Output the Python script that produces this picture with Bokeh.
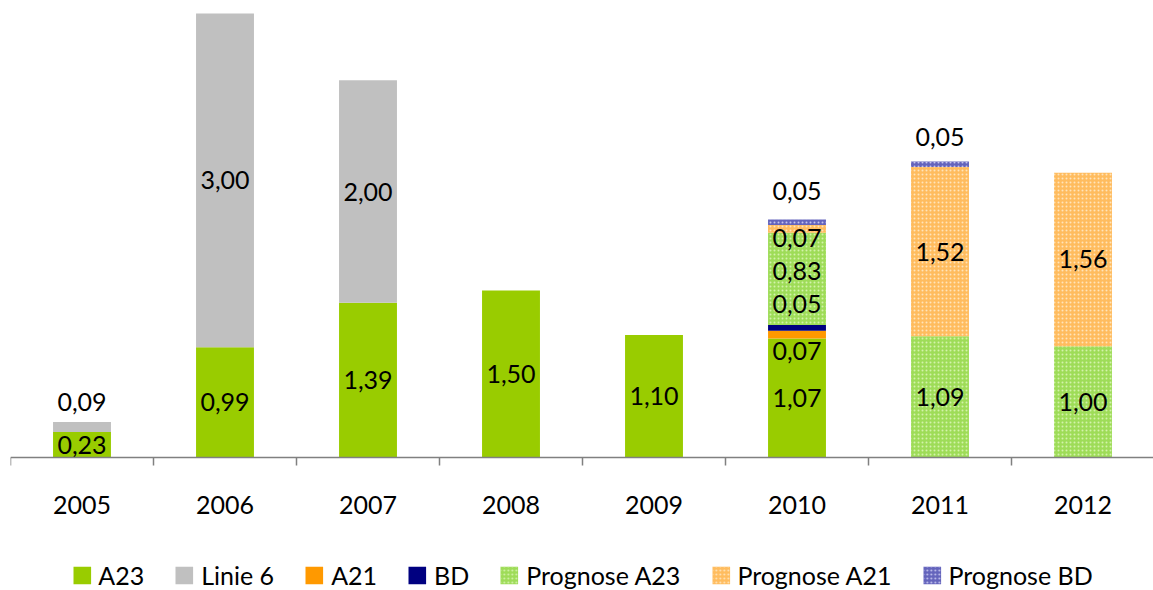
from bokeh.plotting import figure
from bokeh.models import ColumnDataSource, FixedTicker, Legend, LegendItem, Range1d
from bokeh.embed import file_html
from bokeh.resources import INLINE
from bokeh.core.properties import value

# ---------------- data ----------------
years = ["2005", "2006", "2007", "2008", "2009", "2010", "2011", "2012"]
a23 = [0.23, 0.99, 1.39, 1.50, 1.10, 1.07, 0.0, 0.0]
linie6 = [0.09, 3.00, 2.00, 0.0, 0.0, 0.0, 0.0, 0.0]
a21 = [0.0, 0.0, 0.0, 0.0, 0.0, 0.07, 0.0, 0.0]
bd = [0.0, 0.0, 0.0, 0.0, 0.0, 0.05, 0.0, 0.0]
prog_a23 = [0.0, 0.0, 0.0, 0.0, 0.0, 0.83, 1.09, 1.00]
prog_a21 = [0.0, 0.0, 0.0, 0.0, 0.0, 0.07, 1.52, 1.56]
prog_bd = [0.0, 0.0, 0.0, 0.0, 0.0, 0.05, 0.05, 0.0]

series_names = ["A23", "Linie 6", "A21", "BD", "Prognose A23", "Prognose A21", "Prognose BD"]
keys = ["a23", "linie6", "a21", "bd", "prog_a23", "prog_a21", "prog_bd"]
series = [a23, linie6, a21, bd, prog_a23, prog_a21, prog_bd]

# ---------------- styles ----------------
colors = ["#99CC00", "#C0C0C0", "#FF9900", "#000080", "#9edc58", "#ffbc5e", "#6464bc"]
hatches = [" ", " ", " ", " ", "dot", "dot", "dot"]
hatch_colors = ["#ffffff", "#ffffff", "#ffffff", "#ffffff", "#d3f2ab", "#ffe4bb", "#c4c4ee"]
FONT = "Lato"
# manual label nudges (pixels, positive = up), as in the original chart
label_nudge = {(0, "linie6"): 25, (5, "a21"): -16, (5, "bd"): 24, (5, "prog_a23"): 8,
               (5, "prog_a21"): -9, (5, "prog_bd"): 31, (6, "prog_bd"): 27}

xs = list(range(len(years)))
data = {"x": xs}
for k, s in zip(keys, series):
    data[k] = s
src = ColumnDataSource(data)

# the frame reaches the bottom of the page; the category axis is pinned at y = 0
p = figure(width=1153, height=590, output_backend="svg", toolbar_location=None,
           x_range=Range1d(-0.5, 7.493), y_range=Range1d(-1.195, 4.017),
           min_border=0, min_border_left=10, min_border_top=10, min_border_right=0,
           min_border_bottom=0)
p.outline_line_color = None
p.background_fill_color = "white"
p.border_fill_color = "white"
p.xgrid.visible = False
p.ygrid.visible = False
p.yaxis.visible = False

renderers = p.vbar_stack(keys, x="x", width=0.405, source=src, color=colors,
                         line_color=None, hatch_pattern=hatches, hatch_color=hatch_colors,
                         hatch_scale=4, hatch_weight=1.2)

# data labels
lx, ly, lt, lo = [], [], [], []
for i in xs:
    base = 0.0
    for k, s in zip(keys, series):
        v = s[i]
        if v > 0:
            lx.append(i)
            ly.append(base + v / 2)
            lt.append(f"{v:.2f}".replace(".", ","))
            lo.append(-label_nudge.get((i, k), 0))
        base += v
lsrc = ColumnDataSource(dict(x=lx, y=ly, text=lt, yo=lo))
p.text(x="x", y="y", text="text", y_offset="yo", source=lsrc, text_align="center",
       text_baseline="middle", text_font=value(FONT), text_font_size="25px",
       text_color="black")

# x axis: labels at centres, tick marks at category boundaries
ax = p.xaxis[0]
ax.fixed_location = 0
ax.ticker = FixedTicker(ticks=xs, minor_ticks=[i - 0.5 for i in range(len(years) + 1)])
ax.major_label_overrides = {i: y for i, y in enumerate(years)}
ax.major_tick_out = 0
ax.major_tick_in = 0
ax.minor_tick_out = 8
ax.minor_tick_in = 0
ax.axis_line_color = "#808080"
ax.axis_line_width = 1.5
ax.minor_tick_line_color = "#808080"
ax.minor_tick_line_width = 1.5
ax.major_label_standoff = 30
ax.major_label_text_font = FONT
ax.major_label_text_font_size = "25px"
ax.major_label_text_color = "black"

legend = Legend(items=[LegendItem(label=n, renderers=[r]) for n, r in zip(series_names, renderers)],
                orientation="horizontal", location="bottom_center", padding=0, margin=0,
                spacing=29, label_standoff=6, glyph_width=22, glyph_height=22,
                label_text_font=FONT, label_text_font_size="25px", label_text_color="black",
                border_line_color=None, background_fill_alpha=0)
p.add_layout(legend)

open("out.html", "w").write(file_html(p, INLINE))
